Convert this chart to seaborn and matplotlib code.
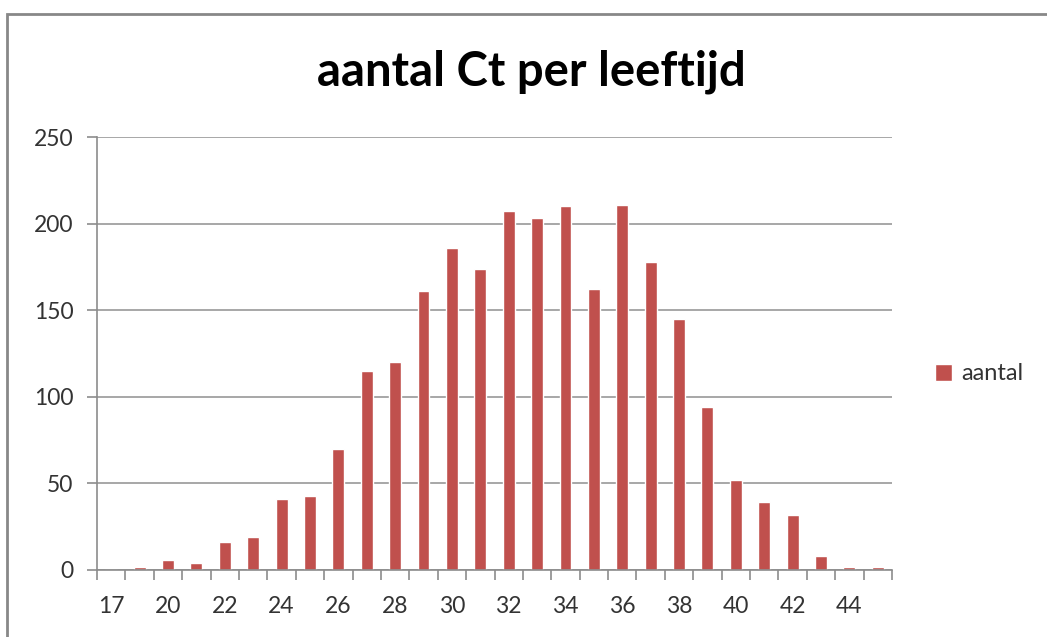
import matplotlib
matplotlib.use("Agg")
import matplotlib.pyplot as plt
from matplotlib.patches import Rectangle
from matplotlib.ticker import FixedLocator
import seaborn as sns
import pandas as pd

# Number of Ct cases per age
ages = [17, 19, 20, 21, 22, 23, 24, 25, 26, 27, 28, 29, 30, 31,
        32, 33, 34, 35, 36, 37, 38, 39, 40, 41, 42, 43, 44, 45]
aantal = [0, 2, 6, 4, 16, 19, 41, 43, 70, 115, 120, 161, 186, 174,
          207, 203, 210, 162, 211, 178, 145, 94, 52, 39, 32, 8, 2, 2]
y_ticks = [0, 50, 100, 150, 200, 250]
series_name = "aantal"
title = "aantal Ct per leeftijd"

df = pd.DataFrame({"leeftijd": [str(a) for a in ages], series_name: aantal})

sns.set_theme(style="white")
plt.rcParams["font.family"] = ["Lato", "DejaVu Sans"]

W, H = 1047, 637
fig = plt.figure(figsize=(W / 100, H / 100), dpi=100)
ax = fig.add_axes([97 / W, 1 - 570 / H, (892 - 97) / W, (570 - 137) / H])

bar_color = "#C0504D"
grid_color = "#A0A0A0"
axis_color = "#8C8C8C"
text_color = "#333333"

sns.barplot(data=df, x="leeftijd", y=series_name, order=df["leeftijd"],
            color=bar_color, saturation=1, width=0.42, ax=ax,
            label=series_name)

ax.set_xlim(-0.5, len(ages) - 0.5)
ax.set_ylim(0, 250)
ax.set_yticks(y_ticks)
ax.set_yticklabels([str(v) for v in y_ticks])
ax.yaxis.grid(True, color=grid_color, linewidth=1.3)
ax.set_axisbelow(True)

# every other category is labelled; tick marks sit between categories
label_idx = list(range(0, len(ages), 2))
ax.set_xticks(label_idx)
ax.set_xticklabels([str(ages[i]) for i in label_idx])
ax.xaxis.set_minor_locator(FixedLocator([i - 0.5 for i in range(len(ages) + 1)]))
ax.tick_params(axis="x", which="major", length=0, pad=19,
               labelsize=16.5, labelcolor=text_color)
ax.tick_params(axis="x", which="minor", length=7, width=1.2,
               color=axis_color, direction="out")
ax.tick_params(axis="y", which="major", length=7, width=1.2,
               color=axis_color, direction="out", pad=10,
               labelsize=16.5, labelcolor=text_color)
ax.xaxis.set_ticks_position("bottom")
ax.yaxis.set_ticks_position("left")

ax.set_xlabel("")
ax.set_ylabel("")
for side in ("top", "right"):
    ax.spines[side].set_visible(False)
for side in ("left", "bottom"):
    ax.spines[side].set_color(axis_color)
    ax.spines[side].set_linewidth(1.2)

fig.text(531 / W, 1 - 72 / H, title, ha="center", va="center",
         fontsize=34, fontweight="bold", color="black")

handles, labels = ax.get_legend_handles_labels()
if ax.get_legend() is not None:
    ax.get_legend().remove()
fig.legend(handles[:1], labels[:1], loc="center left",
           bbox_to_anchor=(914 / W, 1 - 374 / H), frameon=False,
           handlelength=0.7, handleheight=0.7, handletextpad=0.4,
           fontsize=17, labelcolor=text_color)

# outer chart frame
fig.add_artist(Rectangle((7 / W, -0.05), 1.1, (H - 14) / H + 0.05,
                         transform=fig.transFigure, fill=False,
                         edgecolor="#888888", linewidth=2))

fig.savefig("out.png", dpi=100)
